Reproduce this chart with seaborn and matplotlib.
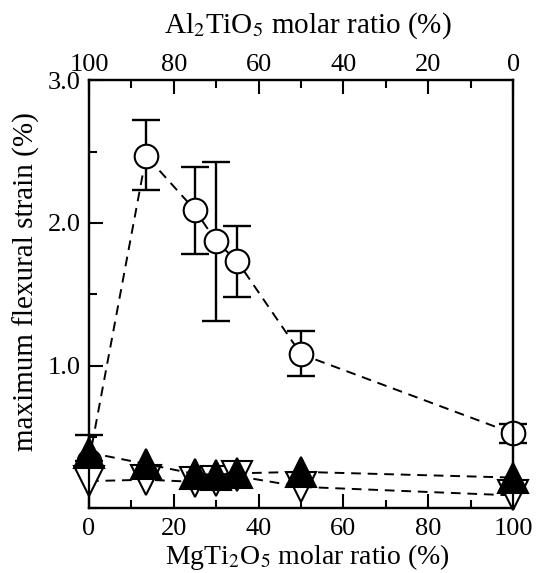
#!/usr/bin/env python3

import matplotlib
matplotlib.use("Agg")
import matplotlib.pyplot as plt
import seaborn as sns
import pandas as pd
from matplotlib.ticker import MultipleLocator

# MgTi2O5 molar ratio (%)
x_ratio = [0, 13.5, 25, 30, 35, 50, 100]

# open circles with error bars
circ_y = [0.33, 2.47, 2.09, 1.87, 1.73, 1.08, 0.525]
circ_lo = [0.33, 2.23, 1.785, 1.31, 1.48, 0.925, 0.46]
circ_hi = [0.51, 2.72, 2.39, 2.43, 1.98, 1.24, 0.59]

# filled up triangles
tri_up_y = [0.39, 0.31, 0.24, 0.235, 0.245, 0.255, 0.215]

# open down triangles
tri_down_y = [0.19, 0.20, 0.185, 0.19, 0.225, 0.15, 0.09]

sns.set_style("ticks")
plt.rcParams["font.family"] = ["Liberation Serif", "DejaVu Serif"]
plt.rcParams["mathtext.fontset"] = "stix"
plt.rcParams["text.color"] = "black"
plt.rcParams["axes.labelcolor"] = "black"
plt.rcParams["xtick.color"] = "black"
plt.rcParams["ytick.color"] = "black"
plt.rcParams["axes.edgecolor"] = "black"

FS = 19

fig = plt.figure(figsize=(5.39, 5.73), dpi=100)
ax = fig.add_axes([0.165, 0.113, 0.787, 0.747])

df = pd.DataFrame({"x": x_ratio, "circ": circ_y, "up": tri_up_y, "down": tri_down_y})

yerr = [[c - lo for c, lo in zip(circ_y, circ_lo)],
        [hi - c for c, hi in zip(circ_y, circ_hi)]]
ax.errorbar(x_ratio, circ_y, yerr=yerr, fmt="none", ecolor="black",
            elinewidth=1.7, capsize=10, capthick=1.7, zorder=1, clip_on=False)

common = dict(color="black", linestyle=(0, (5, 3.5)), linewidth=1.4,
              markeredgewidth=1.5, markeredgecolor="black",
              sort=False, clip_on=False, ax=ax, legend=False)

sns.lineplot(data=df, x="x", y="circ", marker="o", markerfacecolor="white",
             markersize=17, zorder=2, **common)
sns.lineplot(data=df, x="x", y="down", marker="v", markerfacecolor="white",
             markersize=21, zorder=3, **common)
sns.lineplot(data=df, x="x", y="up", marker="^", markerfacecolor="black",
             markersize=21, zorder=4, **common)

ax.set_xlim(0, 100)
ax.set_ylim(0, 3.0)
ax.xaxis.set_major_locator(MultipleLocator(20))
ax.xaxis.set_minor_locator(MultipleLocator(10))
ax.set_yticks([1.0, 2.0, 3.0])
ax.set_yticklabels(["1.0", "2.0", "3.0"])
ax.yaxis.set_minor_locator(MultipleLocator(0.5))

ax.tick_params(which="both", direction="in", width=1.5, labelsize=FS, colors="black")
ax.tick_params(which="major", length=10)
ax.tick_params(which="minor", length=6)
ax.tick_params(axis="x", pad=7)
ax.tick_params(axis="y", pad=6)

ax.set_xlabel("MgTi$_2$O$_5$ molar ratio (%)", fontsize=20, color="black")
ax.set_ylabel("maximum flexural strain (%)", fontsize=21, color="black")
ax.xaxis.set_label_coords(0.515, -0.078)
ax.yaxis.set_label_coords(-0.115, 0.53)

for s in ax.spines.values():
    s.set_linewidth(1.6)
    s.set_color("black")

top = ax.twiny()
top.set_xlim(100, 0)
top.xaxis.set_major_locator(MultipleLocator(20))
top.xaxis.set_minor_locator(MultipleLocator(10))
top.tick_params(which="both", direction="in", width=1.5, labelsize=FS, pad=3,
                colors="black")
top.tick_params(which="major", length=10)
top.tick_params(which="minor", length=6)
top.set_xlabel("Al$_2$TiO$_5$ molar ratio (%)", fontsize=21, color="black")
top.xaxis.set_label_coords(0.515, 1.11)
for s in top.spines.values():
    s.set_linewidth(1.6)
    s.set_color("black")

fig.savefig("out.png", dpi=100)
